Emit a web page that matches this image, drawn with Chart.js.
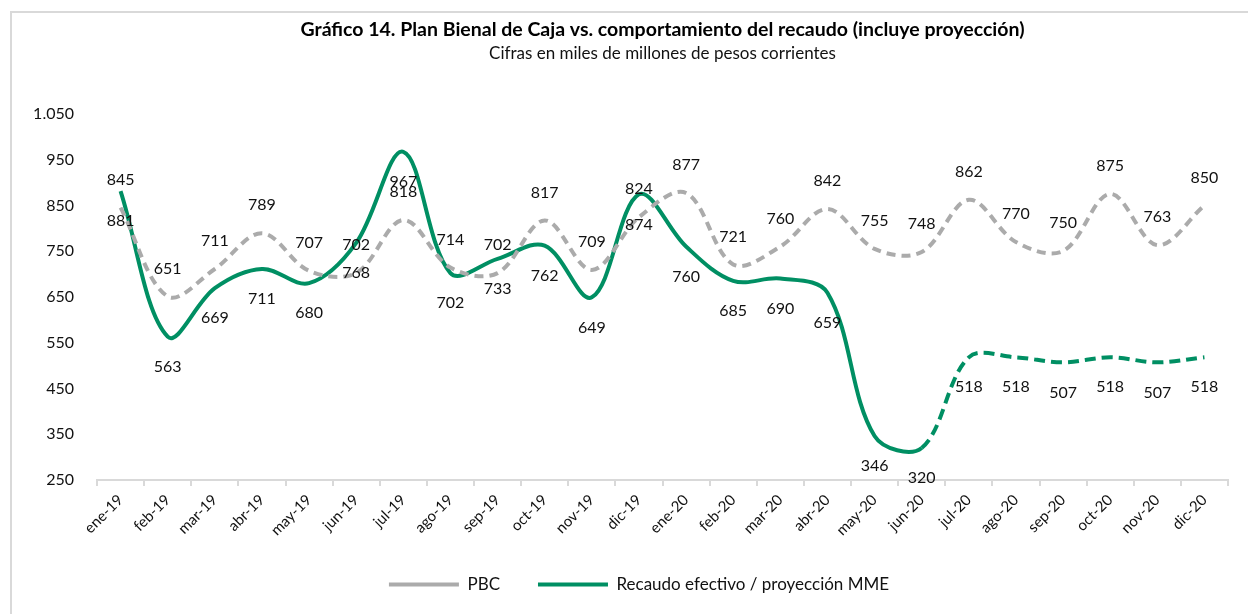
<!DOCTYPE html>
<html>
<head>
<meta charset="utf-8">
<script src="https://cdn.jsdelivr.net/npm/chart.js@4/dist/chart.umd.min.js"></script>
<style>
  html, body { margin: 0; padding: 0; background: #fff; }
  #wrap { position: relative; width: 1248px; height: 614px; overflow: hidden; }
  #frame { position: absolute; left: 10px; top: 11px; width: 1300px; height: 700px; border: 2px solid #D9D9D9; box-sizing: border-box; }
  #c { position: absolute; left: 0; top: 0; }
</style>
</head>
<body>
<div id="wrap">
  <div id="frame"></div>
  <canvas id="c" width="1248" height="614"></canvas>
</div>
<script>
const categories = ['ene-19','feb-19','mar-19','abr-19','may-19','jun-19','jul-19','ago-19','sep-19','oct-19','nov-19','dic-19',
                    'ene-20','feb-20','mar-20','abr-20','may-20','jun-20','jul-20','ago-20','sep-20','oct-20','nov-20','dic-20'];
const pbcValues = [845,651,711,789,707,702,818,714,702,817,709,824,877,721,760,842,755,748,862,770,750,875,763,850];
const recaudoValues = [881,563,669,711,680,768,967,702,733,762,649,874,760,685,690,659,346,320,518,518,507,518,507,518];
const yTickValues = [250,350,450,550,650,750,850,950,1050];
const titleText = 'Gráfico 14. Plan Bienal de Caja vs. comportamiento del recaudo (incluye proyección)';
const subtitleText = 'Cifras en miles de millones de pesos corrientes';
const projectionStart = categories.indexOf('jun-20');

const FONT = 'Lato, "Noto Sans", sans-serif';
const GREEN = '#008F63';
const GRAY = '#ABABAB';

function fmt(v) {
  const s = String(Math.round(v));
  return s.replace(/\B(?=(\d{3})+(?!\d))/g, '.');
}

const dataLabels = {
  id: 'dataLabels',
  afterDatasetsDraw(chart) {
    const ctx = chart.ctx;
    ctx.save();
    ctx.font = '16px ' + FONT;
    ctx.fillStyle = '#111';
    ctx.textAlign = 'center';
    ctx.textBaseline = 'middle';
    chart.data.datasets.forEach((ds, di) => {
      const meta = chart.getDatasetMeta(di);
      const off = di === 0 ? -28 : 30;
      meta.data.forEach((el, i) => {
        ctx.fillText(fmt(ds.data[i]), el.x, el.y + off);
      });
    });
    ctx.restore();
  }
};

// centre the legend row like the original (slightly right of the canvas centre)
const legendShift = {
  id: 'legendShift',
  afterLayout(chart) {
    if (chart.legend) chart.legend.left += 50;
  }
};

new Chart(document.getElementById('c'), {
  type: 'line',
  data: {
    labels: categories,
    datasets: [
      {
        label: 'PBC',
        data: pbcValues,
        borderColor: GRAY,
        backgroundColor: GRAY,
        borderWidth: 4,
        borderDash: [9, 6],
        borderCapStyle: 'butt',
        tension: 0.35,
        pointRadius: 0,
        fill: false
      },
      {
        label: 'Recaudo efectivo / proyección MME',
        data: recaudoValues,
        borderColor: GREEN,
        backgroundColor: GREEN,
        borderWidth: 4,
        tension: 0.35,
        pointRadius: 0,
        fill: false,
        segment: {
          borderDash: ctx => ctx.p0DataIndex >= projectionStart ? [11, 6] : undefined
        }
      }
    ]
  },
  options: {
    responsive: false,
    animation: false,
    devicePixelRatio: 1,
    layout: { padding: { left: 0, right: 20, top: 0, bottom: 11 } },
    plugins: {
      title: {
        display: true,
        text: titleText,
        fullSize: false,
        color: '#000',
        font: { family: FONT, size: 19.5, weight: 'bold', lineHeight: 1.2 },
        padding: { top: 18, bottom: 1 }
      },
      subtitle: {
        display: true,
        text: subtitleText,
        fullSize: false,
        color: '#111',
        font: { family: FONT, size: 17, lineHeight: 1.2 },
        padding: { top: 1, bottom: 50 }
      },
      legend: {
        position: 'bottom',
        labels: {
          usePointStyle: true,
          pointStyle: 'line',
          pointStyleWidth: 70,
          padding: 38,
          color: '#111',
          font: { family: FONT, size: 17 }
        }
      },
      tooltip: { enabled: false }
    },
    scales: {
      x: {
        type: 'category',
        offset: true,
        grid: { display: true, offset: true, drawOnChartArea: false, drawTicks: true, tickLength: 6, color: '#D9D9D9', lineWidth: 2 },
        border: { display: true, color: '#D9D9D9', width: 2 },
        ticks: { minRotation: 45, maxRotation: 45, autoSkip: false, padding: 5, color: '#111', font: { family: FONT, size: 15 } },
        afterFit(scale) { scale.height = 58; }
      },
      y: {
        min: 250,
        max: 1050,
        grid: { display: false, drawTicks: false },
        border: { display: false },
        afterBuildTicks(scale) { scale.ticks = yTickValues.map(v => ({ value: v })); },
        ticks: {
          padding: 23,
          color: '#111',
          font: { family: FONT, size: 16 },
          callback: v => fmt(v)
        },
        afterFit(scale) { scale.width = 97; }
      }
    }
  },
  plugins: [dataLabels, legendShift]
});
</script>
</body>
</html>
